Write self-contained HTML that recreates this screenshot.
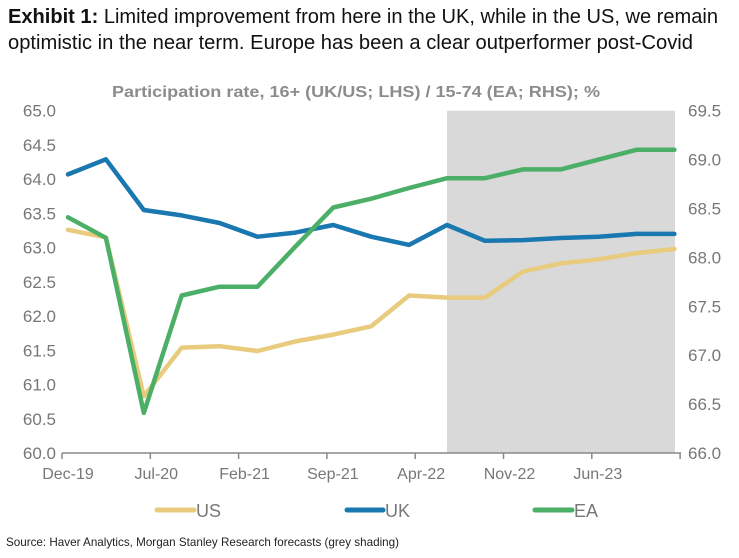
<!DOCTYPE html>
<html><head><meta charset="utf-8"><style>
body{margin:0;background:#fff;width:739px;height:553px;overflow:hidden;font-family:"Liberation Sans",sans-serif}
.cond{font-family:"Liberation Sans Narrow","Liberation Sans",sans-serif}
</style></head><body>
<svg width="739" height="553" xmlns="http://www.w3.org/2000/svg">
<text x="8" y="23" font-size="20" fill="#111" textLength="710" lengthAdjust="spacingAndGlyphs"><tspan font-weight="bold">Exhibit 1:</tspan>  Limited improvement from here in the UK, while in the US, we remain</text>
<text x="8" y="49" font-size="20" fill="#111" textLength="685" lengthAdjust="spacingAndGlyphs">optimistic in the near term. Europe has been a clear outperformer post-Covid</text>
<text x="112" y="97" font-size="16" font-weight="bold" fill="#8c8c8c" textLength="488" lengthAdjust="spacingAndGlyphs">Participation rate, 16+ (UK/US; LHS) / 15-74 (EA; RHS); %</text>
<rect x="447" y="110.7" width="228" height="342.3" fill="#d9d9d9"/>
<g id="axes"></g>
<g id="lines"></g>
<g>
<line x1="157" y1="510" x2="194" y2="510" stroke="#e8cb7d" stroke-width="5" stroke-linecap="round"/>
<text x="196" y="517" font-size="18" fill="#777" class="cond">US</text>
<line x1="347" y1="510" x2="383" y2="510" stroke="#1a78b0" stroke-width="5" stroke-linecap="round"/>
<text x="385" y="517" font-size="18" fill="#777" class="cond">UK</text>
<line x1="535" y1="510" x2="572" y2="510" stroke="#4caf68" stroke-width="5" stroke-linecap="round"/>
<text x="574" y="517" font-size="18" fill="#777" class="cond">EA</text>
</g>
<text x="6" y="546" font-size="12" fill="#222" class="cond" textLength="393" lengthAdjust="spacingAndGlyphs">Source: Haver Analytics, Morgan Stanley Research forecasts (grey shading)</text>
</svg>
<script>
const xLabels=["Dec-19","Jul-20","Feb-21","Sep-21","Apr-22","Nov-22","Jun-23"];
const leftTicks=[60.0,60.5,61.0,61.5,62.0,62.5,63.0,63.5,64.0,64.5,65.0];
const rightTicks=[66.0,66.5,67.0,67.5,68.0,68.5,69.0,69.5];
const usVals=[63.26,63.15,60.83,61.54,61.56,61.49,61.63,61.73,61.85,62.30,62.27,62.27,62.65,62.77,62.83,62.92,62.98];
const ukVals=[64.07,64.29,63.55,63.47,63.36,63.16,63.22,63.33,63.16,63.04,63.33,63.10,63.11,63.14,63.16,63.20,63.20];
const eaVals=[68.41,68.20,66.41,67.61,67.70,67.70,68.11,68.51,68.60,68.71,68.81,68.81,68.90,68.90,69.00,69.10,69.10];
const NS="http://www.w3.org/2000/svg";
const yTop=110.7,yBot=453;
const yL=v=>yBot-(v-60)/5*(yBot-yTop);
const yR=v=>yBot-(v-66)/3.5*(yBot-yTop);
const xI=i=>68+i*37.9;
const axesG=document.getElementById('axes'),linesG=document.getElementById('lines');
function mk(tag,attrs,parent,txt){const e=document.createElementNS(NS,tag);for(const k in attrs)e.setAttribute(k,attrs[k]);if(txt!==undefined)e.textContent=txt;parent.appendChild(e);return e;}
const base=mk('line',{x1:62,y1:yBot,x2:681,y2:yBot,stroke:'#888','stroke-width':1.5},axesG);


for(let k=0;k<=7;k++){const x=62+k*88.3;const t=mk('line',{x1:x,y1:yBot,x2:x,y2:yBot+6,stroke:'#888','stroke-width':1.5},axesG);

}
xLabels.forEach((l,k)=>{const t=mk('text',{x:68+k*88.3,y:479,'font-size':16,fill:'#777','text-anchor':'middle'},axesG,l);

});
leftTicks.forEach(v=>{const t=mk('text',{x:56,y:yL(v)+6,'font-size':17,fill:'#777','text-anchor':'end'},axesG,v.toFixed(1));

});
rightTicks.forEach(v=>{const t=mk('text',{x:688,y:yR(v)+6,'font-size':17,fill:'#777'},axesG,v.toFixed(1));

});
function series(vals,yf,color,name){const d=vals.map((v,i)=>(i?'L':'M')+xI(i).toFixed(1)+','+yf(v).toFixed(1)).join(' ');
const p=mk('path',{d:d,fill:'none',stroke:color,'stroke-width':4.5,'stroke-linejoin':'round','stroke-linecap':'round'},linesG);

}
series(usVals,yL,'#e8cb7d','us-line');
series(ukVals,yL,'#1a78b0','uk-line');
series(eaVals,yR,'#4caf68','ea-line');
</script>
</body></html>
